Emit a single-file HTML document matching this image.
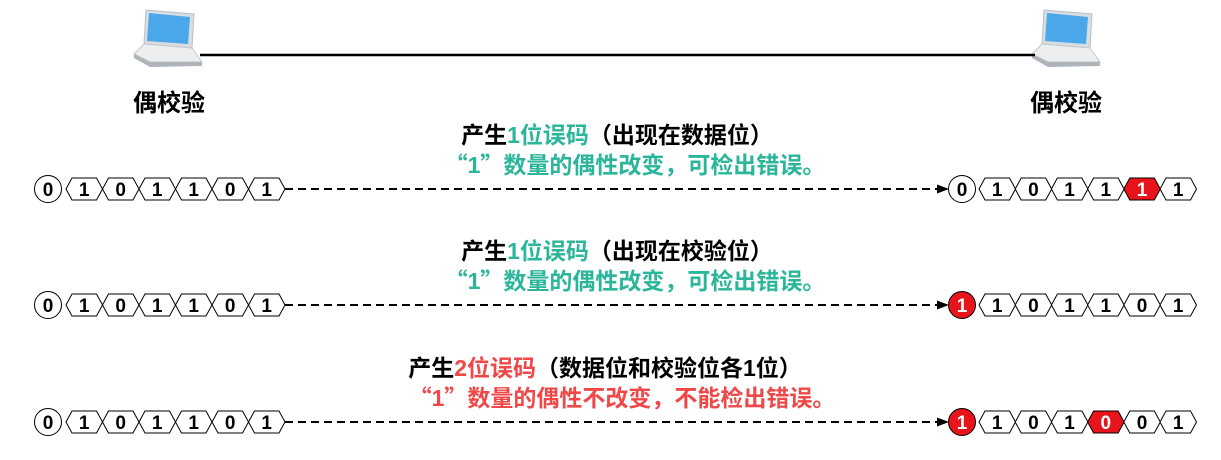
<!DOCTYPE html>
<html><head><meta charset="utf-8"><style>
body{margin:0;background:#fff;}
svg{display:block;font-family:"Liberation Sans","Noto Sans CJK SC",sans-serif;}
.d{font-size:19px;font-weight:bold;text-anchor:middle;fill:#000;}
.w{fill:#fff;}
.t{font-size:23px;font-weight:bold;text-anchor:middle;}
.q{font-family:"Noto Sans CJK SC",sans-serif;}
</style></head><body>
<svg width="1221" height="460" viewBox="0 0 1221 460">
<defs>
<path id="hx" d="M0,11 L6,0 L30.5,0 L36.5,11 L30.5,22 L6,22 Z" stroke="#000" stroke-width="1"/>
<marker id="ar" markerWidth="12" markerHeight="9" refX="11" refY="4.5" orient="auto" markerUnits="userSpaceOnUse"><path d="M0,0 L12,4.5 L0,9 Z" fill="#000"/></marker>
<g id="lap">
<path d="M14,4 L62,8 L60,42 L12,38 Z" fill="#d8dde2" stroke="#b9c0c7"/>
<path d="M17,7 L58,11 L56,38 L15,35 Z" fill="#4aa8ea"/>
<path d="M12,38 L60,42 L70,56 L18,56 L2,48 Z" fill="#eceef0" stroke="#c4c8cc"/>
<path d="M2,48 L18,56 L70,56 L70,60 L18,61 L2,52 Z" fill="#aeb4ba"/>
</g>
</defs>
<use href="#lap" x="132" y="6"/>
<use href="#lap" x="1030" y="6"/>
<line x1="200" y1="55" x2="1035" y2="55" stroke="#000" stroke-width="2.5"/>
<text class="t" x="169" y="111" fill="#000" style="font-size:24px">偶校验</text>
<text class="t" x="1066" y="111" fill="#000" style="font-size:24px">偶校验</text>

<text class="t" x="617" y="143"><tspan fill="#000">产生</tspan><tspan fill="#2bb59a">1位误码</tspan><tspan fill="#000">（出现在数据位）</tspan></text>
<text class="t" x="635" y="173" fill="#2bb59a"><tspan class="q">“</tspan>1<tspan class="q">”</tspan>数量的偶性改变，可检出错误。</text>
<text class="t" x="617" y="259"><tspan fill="#000">产生</tspan><tspan fill="#2bb59a">1位误码</tspan><tspan fill="#000">（出现在校验位）</tspan></text>
<text class="t" x="635" y="289" fill="#2bb59a"><tspan class="q">“</tspan>1<tspan class="q">”</tspan>数量的偶性改变，可检出错误。</text>
<text class="t" x="605" y="376"><tspan fill="#000">产生</tspan><tspan fill="#f04848">2位误码</tspan><tspan fill="#000">（数据位和校验位各1位）</tspan></text>
<text class="t" x="622" y="406" fill="#f04848"><tspan class="q">“</tspan>1<tspan class="q">”</tspan>数量的偶性不改变，不能检出错误。</text>

<g transform="translate(0,178)">
<circle cx="48" cy="11" r="13.5" fill="#fff" stroke="#000"/><text class="d" x="48" y="18">0</text>
<use href="#hx" x="66" fill="#fff"/><text class="d" x="84.2" y="18">1</text>
<use href="#hx" x="102.5" fill="#fff"/><text class="d" x="120.7" y="18">0</text>
<use href="#hx" x="139" fill="#fff"/><text class="d" x="157.2" y="18">1</text>
<use href="#hx" x="175.5" fill="#fff"/><text class="d" x="193.7" y="18">1</text>
<use href="#hx" x="212" fill="#fff"/><text class="d" x="230.2" y="18">0</text>
<use href="#hx" x="248.5" fill="#fff"/><text class="d" x="266.7" y="18">1</text>
<line x1="285" y1="11" x2="948" y2="11" stroke="#000" stroke-width="2" stroke-dasharray="8,5" marker-end="url(#ar)"/>
<circle cx="962" cy="11" r="13.5" fill="#fff" stroke="#000"/><text class="d" x="962" y="18">0</text>
<use href="#hx" x="979" fill="#fff"/><text class="d" x="997.2" y="18">1</text>
<use href="#hx" x="1015.2" fill="#fff"/><text class="d" x="1033.4" y="18">0</text>
<use href="#hx" x="1051.4" fill="#fff"/><text class="d" x="1069.6" y="18">1</text>
<use href="#hx" x="1087.6" fill="#fff"/><text class="d" x="1105.8" y="18">1</text>
<use href="#hx" x="1123.8" fill="#e8141c"/><text class="d w" x="1142" y="18">1</text>
<use href="#hx" x="1160" fill="#fff"/><text class="d" x="1178.2" y="18">1</text>
</g>

<g transform="translate(0,294)">
<circle cx="48" cy="11" r="13.5" fill="#fff" stroke="#000"/><text class="d" x="48" y="18">0</text>
<use href="#hx" x="66" fill="#fff"/><text class="d" x="84.2" y="18">1</text>
<use href="#hx" x="102.5" fill="#fff"/><text class="d" x="120.7" y="18">0</text>
<use href="#hx" x="139" fill="#fff"/><text class="d" x="157.2" y="18">1</text>
<use href="#hx" x="175.5" fill="#fff"/><text class="d" x="193.7" y="18">1</text>
<use href="#hx" x="212" fill="#fff"/><text class="d" x="230.2" y="18">0</text>
<use href="#hx" x="248.5" fill="#fff"/><text class="d" x="266.7" y="18">1</text>
<line x1="285" y1="11" x2="948" y2="11" stroke="#000" stroke-width="2" stroke-dasharray="8,5" marker-end="url(#ar)"/>
<circle cx="962" cy="11" r="13.5" fill="#e8141c" stroke="#000"/><text class="d w" x="962" y="18">1</text>
<use href="#hx" x="979" fill="#fff"/><text class="d" x="997.2" y="18">1</text>
<use href="#hx" x="1015.2" fill="#fff"/><text class="d" x="1033.4" y="18">0</text>
<use href="#hx" x="1051.4" fill="#fff"/><text class="d" x="1069.6" y="18">1</text>
<use href="#hx" x="1087.6" fill="#fff"/><text class="d" x="1105.8" y="18">1</text>
<use href="#hx" x="1123.8" fill="#fff"/><text class="d" x="1142" y="18">0</text>
<use href="#hx" x="1160" fill="#fff"/><text class="d" x="1178.2" y="18">1</text>
</g>

<g transform="translate(0,411)">
<circle cx="48" cy="11" r="13.5" fill="#fff" stroke="#000"/><text class="d" x="48" y="18">0</text>
<use href="#hx" x="66" fill="#fff"/><text class="d" x="84.2" y="18">1</text>
<use href="#hx" x="102.5" fill="#fff"/><text class="d" x="120.7" y="18">0</text>
<use href="#hx" x="139" fill="#fff"/><text class="d" x="157.2" y="18">1</text>
<use href="#hx" x="175.5" fill="#fff"/><text class="d" x="193.7" y="18">1</text>
<use href="#hx" x="212" fill="#fff"/><text class="d" x="230.2" y="18">0</text>
<use href="#hx" x="248.5" fill="#fff"/><text class="d" x="266.7" y="18">1</text>
<line x1="285" y1="11" x2="948" y2="11" stroke="#000" stroke-width="2" stroke-dasharray="8,5" marker-end="url(#ar)"/>
<circle cx="962" cy="11" r="13.5" fill="#e8141c" stroke="#000"/><text class="d w" x="962" y="18">1</text>
<use href="#hx" x="979" fill="#fff"/><text class="d" x="997.2" y="18">1</text>
<use href="#hx" x="1015.2" fill="#fff"/><text class="d" x="1033.4" y="18">0</text>
<use href="#hx" x="1051.4" fill="#fff"/><text class="d" x="1069.6" y="18">1</text>
<use href="#hx" x="1087.6" fill="#e8141c"/><text class="d w" x="1105.8" y="18">0</text>
<use href="#hx" x="1123.8" fill="#fff"/><text class="d" x="1142" y="18">0</text>
<use href="#hx" x="1160" fill="#fff"/><text class="d" x="1178.2" y="18">1</text>
</g>
</svg>
</body></html>
